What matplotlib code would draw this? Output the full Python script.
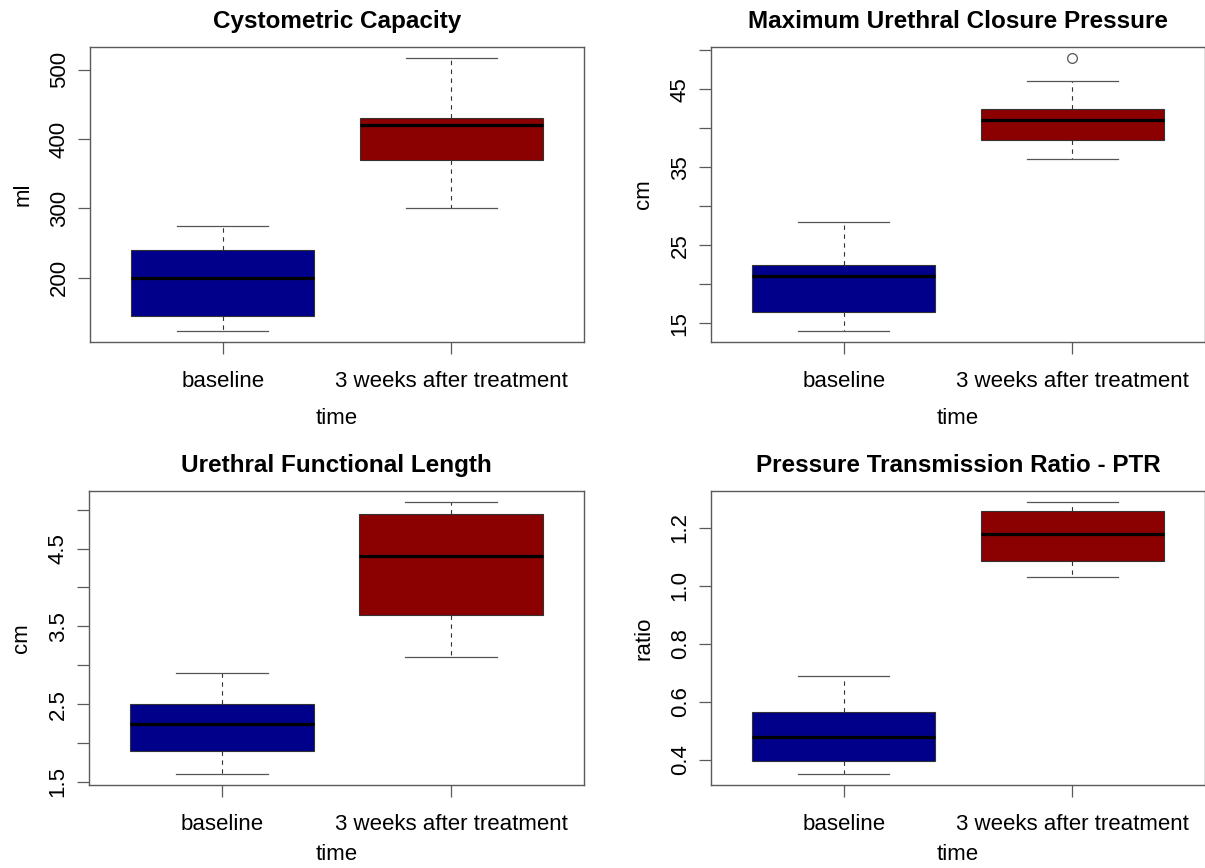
import numpy as np
import matplotlib
matplotlib.use("Agg")
import matplotlib.pyplot as plt

plt.rcParams['font.family'] = ['Liberation Sans', 'DejaVu Sans']

# group names on the x axis
groups = ["baseline", "3 weeks after treatment"]

# five-number summaries: whislo, q1, median, q3, whishi
cc_base = [123, 145, 200, 240, 275]
cc_treat = [300, 370, 420, 430, 517]

mucp_base = [14, 16.5, 21, 22.5, 28]
mucp_treat = [36, 38.5, 41, 42.5, 46]
mucp_treat_out = [49]

ufl_base = [1.6, 1.9, 2.25, 2.5, 2.9]
ufl_treat = [3.1, 3.65, 4.4, 4.95, 5.1]

ptr_base = [0.35, 0.395, 0.477, 0.565, 0.69]
ptr_treat = [1.03, 1.085, 1.18, 1.26, 1.29]

# y ticks and which of them carry a label
cc_ticks = [200, 300, 400, 500]
cc_labels = ["200", "300", "400", "500"]
mucp_ticks = [15, 20, 25, 30, 35, 40, 45, 50]
mucp_labels = ["15", "", "25", "", "35", "", "45", ""]
ufl_ticks = [1.5, 2.0, 2.5, 3.0, 3.5, 4.0, 4.5, 5.0]
ufl_labels = ["1.5", "", "2.5", "", "3.5", "", "4.5", ""]
ptr_ticks = [0.4, 0.6, 0.8, 1.0, 1.2]
ptr_labels = ["0.4", "0.6", "0.8", "1.0", "1.2"]

box_colors = ["#00008B", "#8B0000"]
frame_col = "#5a5a5a"


def make_stats(summary, fliers=None):
    lo, q1, med, q3, hi = summary
    return dict(whislo=lo, q1=q1, med=med, q3=q3, whishi=hi,
                fliers=fliers if fliers is not None else [])


def draw_panel(ax, stats, title, ylabel, ticks, ticklabels, xlabelpad=12):
    parts = ax.bxp(stats, positions=[1, 2], widths=0.8, patch_artist=True,
                   showfliers=True,
                   boxprops=dict(edgecolor="#333333", linewidth=0.8),
                   whiskerprops=dict(color="#333333", linewidth=0.8,
                                     linestyle=(0, (4, 4))),
                   capprops=dict(color="#555555", linewidth=0.9),
                   medianprops=dict(color="black", linewidth=2.3),
                   flierprops=dict(marker="o", markerfacecolor="none",
                                   markeredgecolor="#555555", markersize=7,
                                   markeredgewidth=0.9))
    for patch, c in zip(parts["boxes"], box_colors):
        patch.set_facecolor(c)

    # R style range: 4% padding around data
    vals = []
    for s in stats:
        vals += [s["whislo"], s["whishi"]] + list(s["fliers"])
    lo, hi = min(vals), max(vals)
    pad = 0.04 * (hi - lo)
    ax.set_ylim(lo - pad, hi + pad)
    ax.set_xlim(0.42, 2.58)

    ax.set_xticks([1, 2])
    ax.set_xticklabels(groups, fontsize=16)
    ax.set_yticks(ticks)
    ax.set_yticklabels(ticklabels, fontsize=16, rotation=90, va="center")
    ax.tick_params(axis="both", length=8.6, width=0.9, color=frame_col)
    ax.tick_params(axis="x", pad=12)
    ax.tick_params(axis="y", pad=6)
    for sp in ax.spines.values():
        sp.set_color(frame_col)
        sp.set_linewidth(1.0)

    ax.set_title(title, fontsize=17.5, fontweight="bold", pad=14)
    ax.set_xlabel("time", fontsize=16, labelpad=xlabelpad)
    ax.set_ylabel(ylabel, fontsize=16, labelpad=11)


fig = plt.figure(figsize=(12.05, 8.68), dpi=100)

W, H = 1205.0, 868.0
ax1 = fig.add_axes([90 / W, (H - 342) / H, 494 / W, 295 / H])
ax2 = fig.add_axes([711 / W, (H - 342) / H, 494 / W, 295 / H])
ax3 = fig.add_axes([89 / W, (H - 785) / H, 495 / W, 294 / H])
ax4 = fig.add_axes([711 / W, (H - 785) / H, 494 / W, 294 / H])

draw_panel(ax1, [make_stats(cc_base), make_stats(cc_treat)],
           "Cystometric Capacity", "ml", cc_ticks, cc_labels)
draw_panel(ax2, [make_stats(mucp_base), make_stats(mucp_treat, mucp_treat_out)],
           "Maximum Urethral Closure Pressure", "cm", mucp_ticks, mucp_labels)
draw_panel(ax3, [make_stats(ufl_base), make_stats(ufl_treat)],
           "Urethral Functional Length", "cm", ufl_ticks, ufl_labels, xlabelpad=7)
draw_panel(ax4, [make_stats(ptr_base), make_stats(ptr_treat)],
           "Pressure Transmission Ratio - PTR", "ratio", ptr_ticks, ptr_labels,
           xlabelpad=7)

fig.savefig("out.png", dpi=100)
